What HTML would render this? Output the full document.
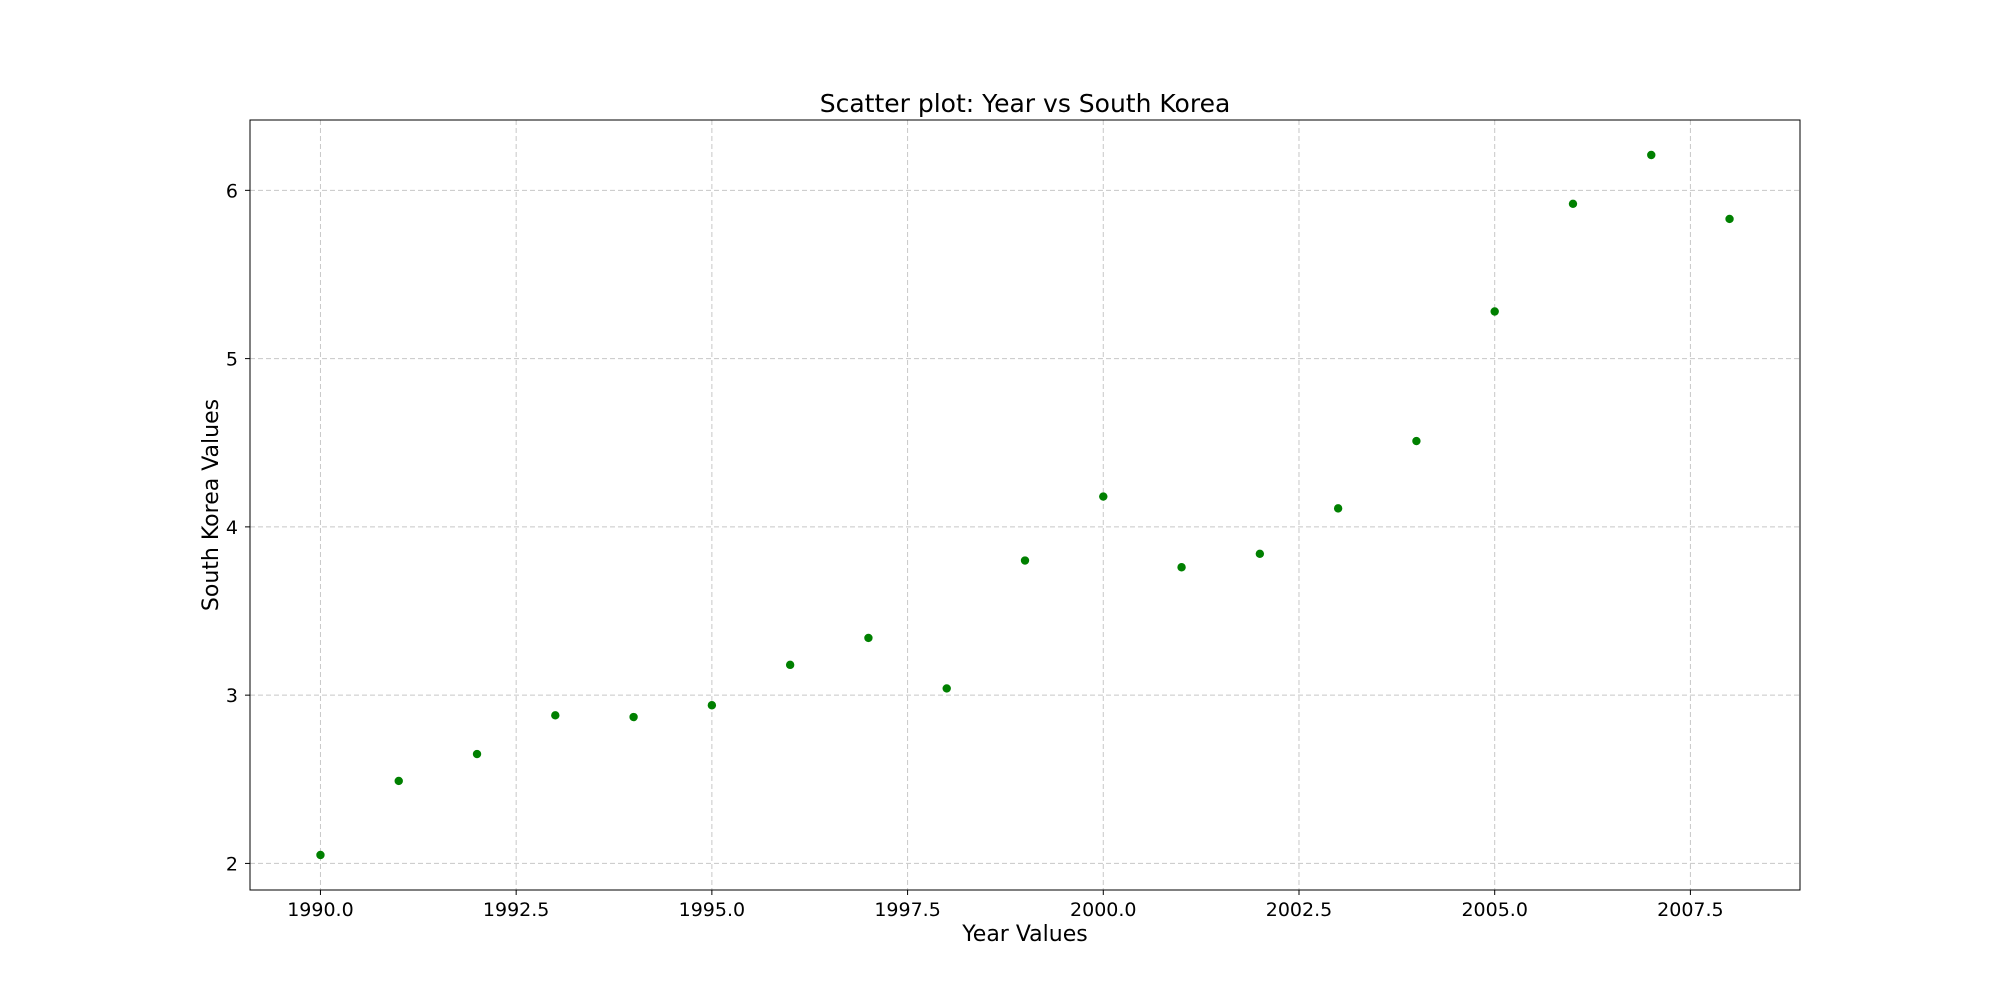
<!DOCTYPE html>
<html><head><meta charset="utf-8"><style>
html,body{margin:0;padding:0;background:#fff;}
svg{display:block;font-family:"DejaVu Sans","Liberation Sans",sans-serif;}
</style></head><body>
<svg id="chart" width="2000" height="1000" viewBox="0 0 2000 1000" xmlns="http://www.w3.org/2000/svg">
<rect width="2000" height="1000" fill="#fff"/>
<g id="grid"></g><g id="points"></g><g id="axes"></g>
<text x="1025" y="112" text-anchor="middle" font-size="25">Scatter plot: Year vs South Korea</text>
<text x="1025" y="941" text-anchor="middle" font-size="22">Year Values</text>
<text transform="translate(218,505) rotate(-90)" text-anchor="middle" font-size="22">South Korea Values</text>
</svg>
<script>
const years=[1990,1991,1992,1993,1994,1995,1996,1997,1998,1999,2000,2001,2002,2003,2004,2005,2006,2007,2008];
const values=[2.05,2.49,2.65,2.88,2.87,2.94,3.18,3.34,3.04,3.80,4.18,3.76,3.84,4.11,4.51,5.28,5.92,6.21,5.83];
const xTicks=[1990,1992.5,1995,1997.5,2000,2002.5,2005,2007.5];
const xTickLabels=["1990.0","1992.5","1995.0","1997.5","2000.0","2002.5","2005.0","2007.5"];
const yTicks=[2,3,4,5,6];
const yTickLabels=["2","3","4","5","6"];

const L=250,R=1800,T=120,B=890;
const xmin=Math.min(...years),xmax=Math.max(...years),xm=(xmax-xmin)*0.05;
const ymin=Math.min(...values),ymax=Math.max(...values),ym=(ymax-ymin)*0.05;
const x=v=>L+(v-(xmin-xm))/((xmax+xm)-(xmin-xm))*(R-L);
const y=v=>B-(v-(ymin-ym))/((ymax+ym)-(ymin-ym))*(B-T);
const NS="http://www.w3.org/2000/svg";
function mk(tag,attrs,parent){const e=document.createElementNS(NS,tag);for(const k in attrs)e.setAttribute(k,attrs[k]);parent.appendChild(e);return e;}
const grid=document.getElementById('grid'),pts=document.getElementById('points'),axes=document.getElementById('axes');
xTicks.forEach((t,i)=>{
  const g=mk('line',{x1:x(t),x2:x(t),y1:T,y2:B,stroke:'#b0b0b0','stroke-width':1,'stroke-dasharray':'5,3',opacity:0.7},grid);
  
  
  const tk=mk('line',{x1:x(t),x2:x(t),y1:B,y2:B+5,stroke:'#000','stroke-width':1},axes);
  
  
  const lb=mk('text',{x:x(t),y:B+26,'text-anchor':'middle','font-size':19},axes);
  lb.textContent=xTickLabels[i];
  
  
});
yTicks.forEach((t,i)=>{
  const g=mk('line',{x1:L,x2:R,y1:y(t),y2:y(t),stroke:'#b0b0b0','stroke-width':1,'stroke-dasharray':'5,3',opacity:0.7},grid);
  
  
  const tk=mk('line',{x1:L-5,x2:L,y1:y(t),y2:y(t),stroke:'#000','stroke-width':1},axes);
  
  
  const lb=mk('text',{x:L-12,y:y(t)+7,'text-anchor':'end','font-size':19},axes);
  lb.textContent=yTickLabels[i];
  
  
});
years.forEach((yr,i)=>{
  const c=mk('circle',{cx:x(yr),cy:y(values[i]),r:4.2,fill:'#008000'},pts);
  
  
});
const fr=mk('rect',{x:L,y:T,width:R-L,height:B-T,fill:'none',stroke:'#000','stroke-width':1},axes);


</script>
</body></html>
